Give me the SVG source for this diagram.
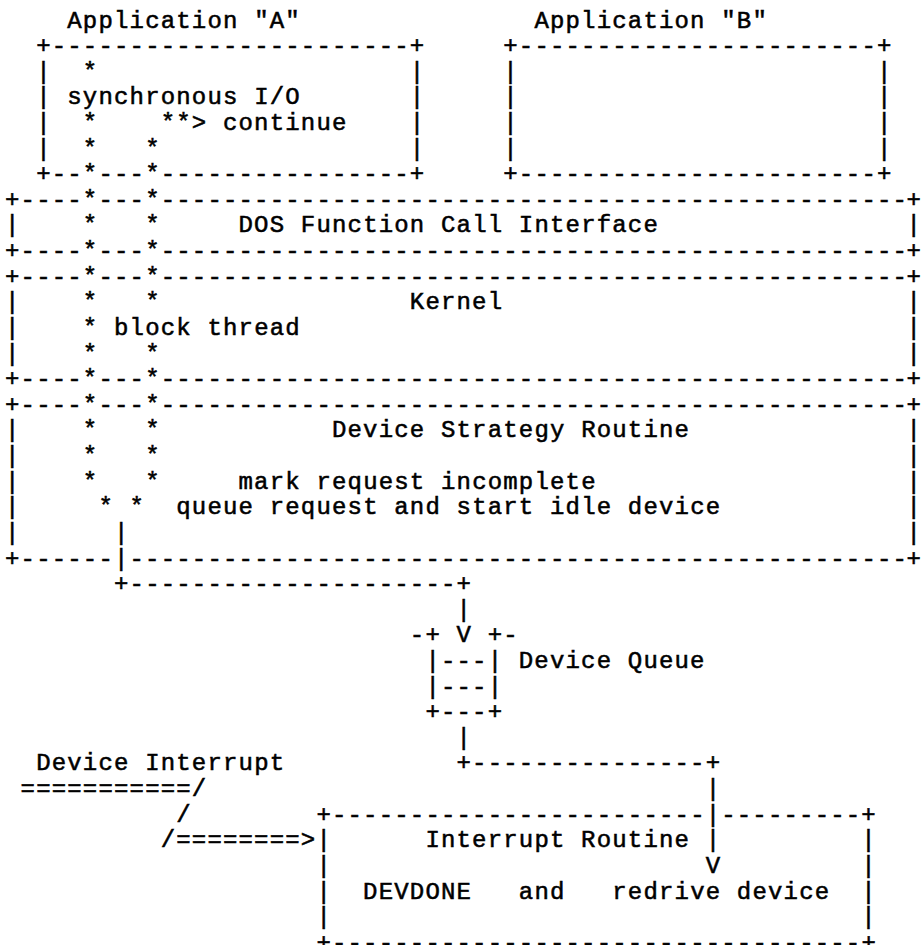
<svg xmlns="http://www.w3.org/2000/svg" width="921" height="945" viewBox="0 0 921 945" xml:space="preserve">
  <style>
    text { font-family: "Liberation Mono", "DejaVu Sans Mono", monospace; font-size: 24px; letter-spacing: 1.17px; fill: #000; stroke: #000; stroke-width: 0.55px; white-space: pre; }
    text.edge { letter-spacing: 0; }
  </style>
  <rect x="0" y="0" width="921" height="945" fill="#fff"/>

  <!-- Character grid: column c at x = 5 + 15.57c, row r baseline at y = 27.5 + 25.62r;
       the last column (58) sits at x = 906.5 without trailing spacing -->

  <g id="app-a">
    <text x="67.28" y="27.5">Application "A"</text>
    <text x="36.14" y="53.12">+-----------------------+</text>
    <text x="36.14" y="78.74">|</text><text x="409.82" y="78.74">|</text>
    <text x="36.14" y="104.36">|</text><text x="67.28" y="104.36">synchronous I/O</text><text x="409.82" y="104.36">|</text>
    <text x="36.14" y="129.98">|</text><text x="222.98" y="129.98">continue</text><text x="409.82" y="129.98">|</text>
    <text x="36.14" y="155.6">|</text><text x="409.82" y="155.6">|</text>
    <text x="36.14" y="181.22">+--</text><text x="98.42" y="181.22">---</text><text x="160.7" y="181.22">----------------+</text>
  </g>

  <g id="app-b">
    <text x="534.38" y="27.5">Application "B"</text>
    <text x="503.24" y="53.12">+-----------------------+</text>
    <text x="503.24" y="78.74">|</text><text x="876.92" y="78.74">|</text>
    <text x="503.24" y="104.36">|</text><text x="876.92" y="104.36">|</text>
    <text x="503.24" y="129.98">|</text><text x="876.92" y="129.98">|</text>
    <text x="503.24" y="155.6">|</text><text x="876.92" y="155.6">|</text>
    <text x="503.24" y="181.22">+-----------------------+</text>
  </g>

  <g id="dos-interface">
    <text x="5" y="206.84">+----</text><text x="98.42" y="206.84">---</text><text x="160.7" y="206.84">------------------------------------------------</text><text class="edge" x="906.5" y="206.84">+</text>
    <text x="5" y="232.46">|</text><text x="238.55" y="232.46">DOS Function Call Interface</text><text class="edge" x="906.5" y="232.46">|</text>
    <text x="5" y="258.08">+----</text><text x="98.42" y="258.08">---</text><text x="160.7" y="258.08">------------------------------------------------</text><text class="edge" x="906.5" y="258.08">+</text>
  </g>

  <g id="kernel">
    <text x="5" y="283.7">+----</text><text x="98.42" y="283.7">---</text><text x="160.7" y="283.7">------------------------------------------------</text><text class="edge" x="906.5" y="283.7">+</text>
    <text x="5" y="309.32">|</text><text x="409.82" y="309.32">Kernel</text><text class="edge" x="906.5" y="309.32">|</text>
    <text x="5" y="334.94">|</text><text x="113.99" y="334.94">block thread</text><text class="edge" x="906.5" y="334.94">|</text>
    <text x="5" y="360.56">|</text><text class="edge" x="906.5" y="360.56">|</text>
    <text x="5" y="386.18">+----</text><text x="98.42" y="386.18">---</text><text x="160.7" y="386.18">------------------------------------------------</text><text class="edge" x="906.5" y="386.18">+</text>
  </g>

  <g id="strategy-routine">
    <text x="5" y="411.8">+----</text><text x="98.42" y="411.8">---</text><text x="160.7" y="411.8">------------------------------------------------</text><text class="edge" x="906.5" y="411.8">+</text>
    <text x="5" y="437.42">|</text><text x="331.97" y="437.42">Device Strategy Routine</text><text class="edge" x="906.5" y="437.42">|</text>
    <text x="5" y="463.04">|</text><text class="edge" x="906.5" y="463.04">|</text>
    <text x="5" y="488.66">|</text><text x="238.55" y="488.66">mark request incomplete</text><text class="edge" x="906.5" y="488.66">|</text>
    <text x="5" y="514.28">|</text><text x="176.27" y="514.28">queue request and start idle device</text><text class="edge" x="906.5" y="514.28">|</text>
    <text x="5" y="539.9">|</text><text class="edge" x="906.5" y="539.9">|</text>
    <text x="5" y="565.52">+------</text><text x="129.56" y="565.52">--------------------------------------------------</text><text class="edge" x="906.5" y="565.52">+</text>
  </g>

  <g id="device-queue">
    <text x="409.82" y="642.38">-+</text><text x="487.67" y="642.38">+-</text>
    <text x="425.39" y="668">|---|</text><text x="518.81" y="668">Device Queue</text>
    <text x="425.39" y="693.62">|---|</text>
    <text x="425.39" y="719.24">+---+</text>
  </g>

  <g id="interrupt-routine">
    <text x="316.4" y="821.72">+------------------------</text><text x="721.22" y="821.72">---------+</text>
    <text x="316.4" y="847.34">|</text><text x="425.39" y="847.34">Interrupt Routine</text><text x="861.35" y="847.34">|</text>
    <text x="316.4" y="872.96">|</text><text x="861.35" y="872.96">|</text>
    <text x="316.4" y="898.58">|</text><text x="363.11" y="898.58">DEVDONE   and   redrive device</text><text x="861.35" y="898.58">|</text>
    <text x="316.4" y="924.2">|</text><text x="861.35" y="924.2">|</text>
    <text x="316.4" y="949.82">+----------------------------------+</text>
  </g>

  <g id="connectors">
    <!-- synchronous I/O path down through the layers -->
    <text x="82.85" y="78.74">*</text>
    <text x="82.85" y="129.98">*</text><text x="160.7" y="129.98">**&gt;</text>
    <text x="82.85" y="155.6">*</text><text x="145.13" y="155.6">*</text>
    <text x="82.85" y="181.22">*</text><text x="145.13" y="181.22">*</text>
    <text x="82.85" y="206.84">*</text><text x="145.13" y="206.84">*</text>
    <text x="82.85" y="232.46">*</text><text x="145.13" y="232.46">*</text>
    <text x="82.85" y="258.08">*</text><text x="145.13" y="258.08">*</text>
    <text x="82.85" y="283.7">*</text><text x="145.13" y="283.7">*</text>
    <text x="82.85" y="309.32">*</text><text x="145.13" y="309.32">*</text>
    <text x="82.85" y="334.94">*</text>
    <text x="82.85" y="360.56">*</text><text x="145.13" y="360.56">*</text>
    <text x="82.85" y="386.18">*</text><text x="145.13" y="386.18">*</text>
    <text x="82.85" y="411.8">*</text><text x="145.13" y="411.8">*</text>
    <text x="82.85" y="437.42">*</text><text x="145.13" y="437.42">*</text>
    <text x="82.85" y="463.04">*</text><text x="145.13" y="463.04">*</text>
    <text x="82.85" y="488.66">*</text><text x="145.13" y="488.66">*</text>
    <text x="98.42" y="514.28">*</text><text x="129.56" y="514.28">*</text>

    <!-- request into the device queue -->
    <text x="113.99" y="539.9">|</text>
    <text x="113.99" y="565.52">|</text>
    <text x="113.99" y="591.14">+---------------------+</text>
    <text x="456.53" y="616.76">|</text>
    <text x="456.53" y="642.38">V</text>

    <!-- queue to interrupt routine -->
    <text x="456.53" y="744.86">|</text>
    <text x="456.53" y="770.48">+---------------+</text>
    <text x="705.65" y="796.1">|</text>
    <text x="705.65" y="821.72">|</text>
    <text x="705.65" y="847.34">|</text>
    <text x="705.65" y="872.96">V</text>

    <!-- device interrupt arrow -->
    <text x="36.14" y="770.48">Device Interrupt</text>
    <text x="20.57" y="796.1">===========/</text>
    <text x="176.27" y="821.72">/</text>
    <text x="160.7" y="847.34">/========&gt;</text>
  </g>
</svg>
